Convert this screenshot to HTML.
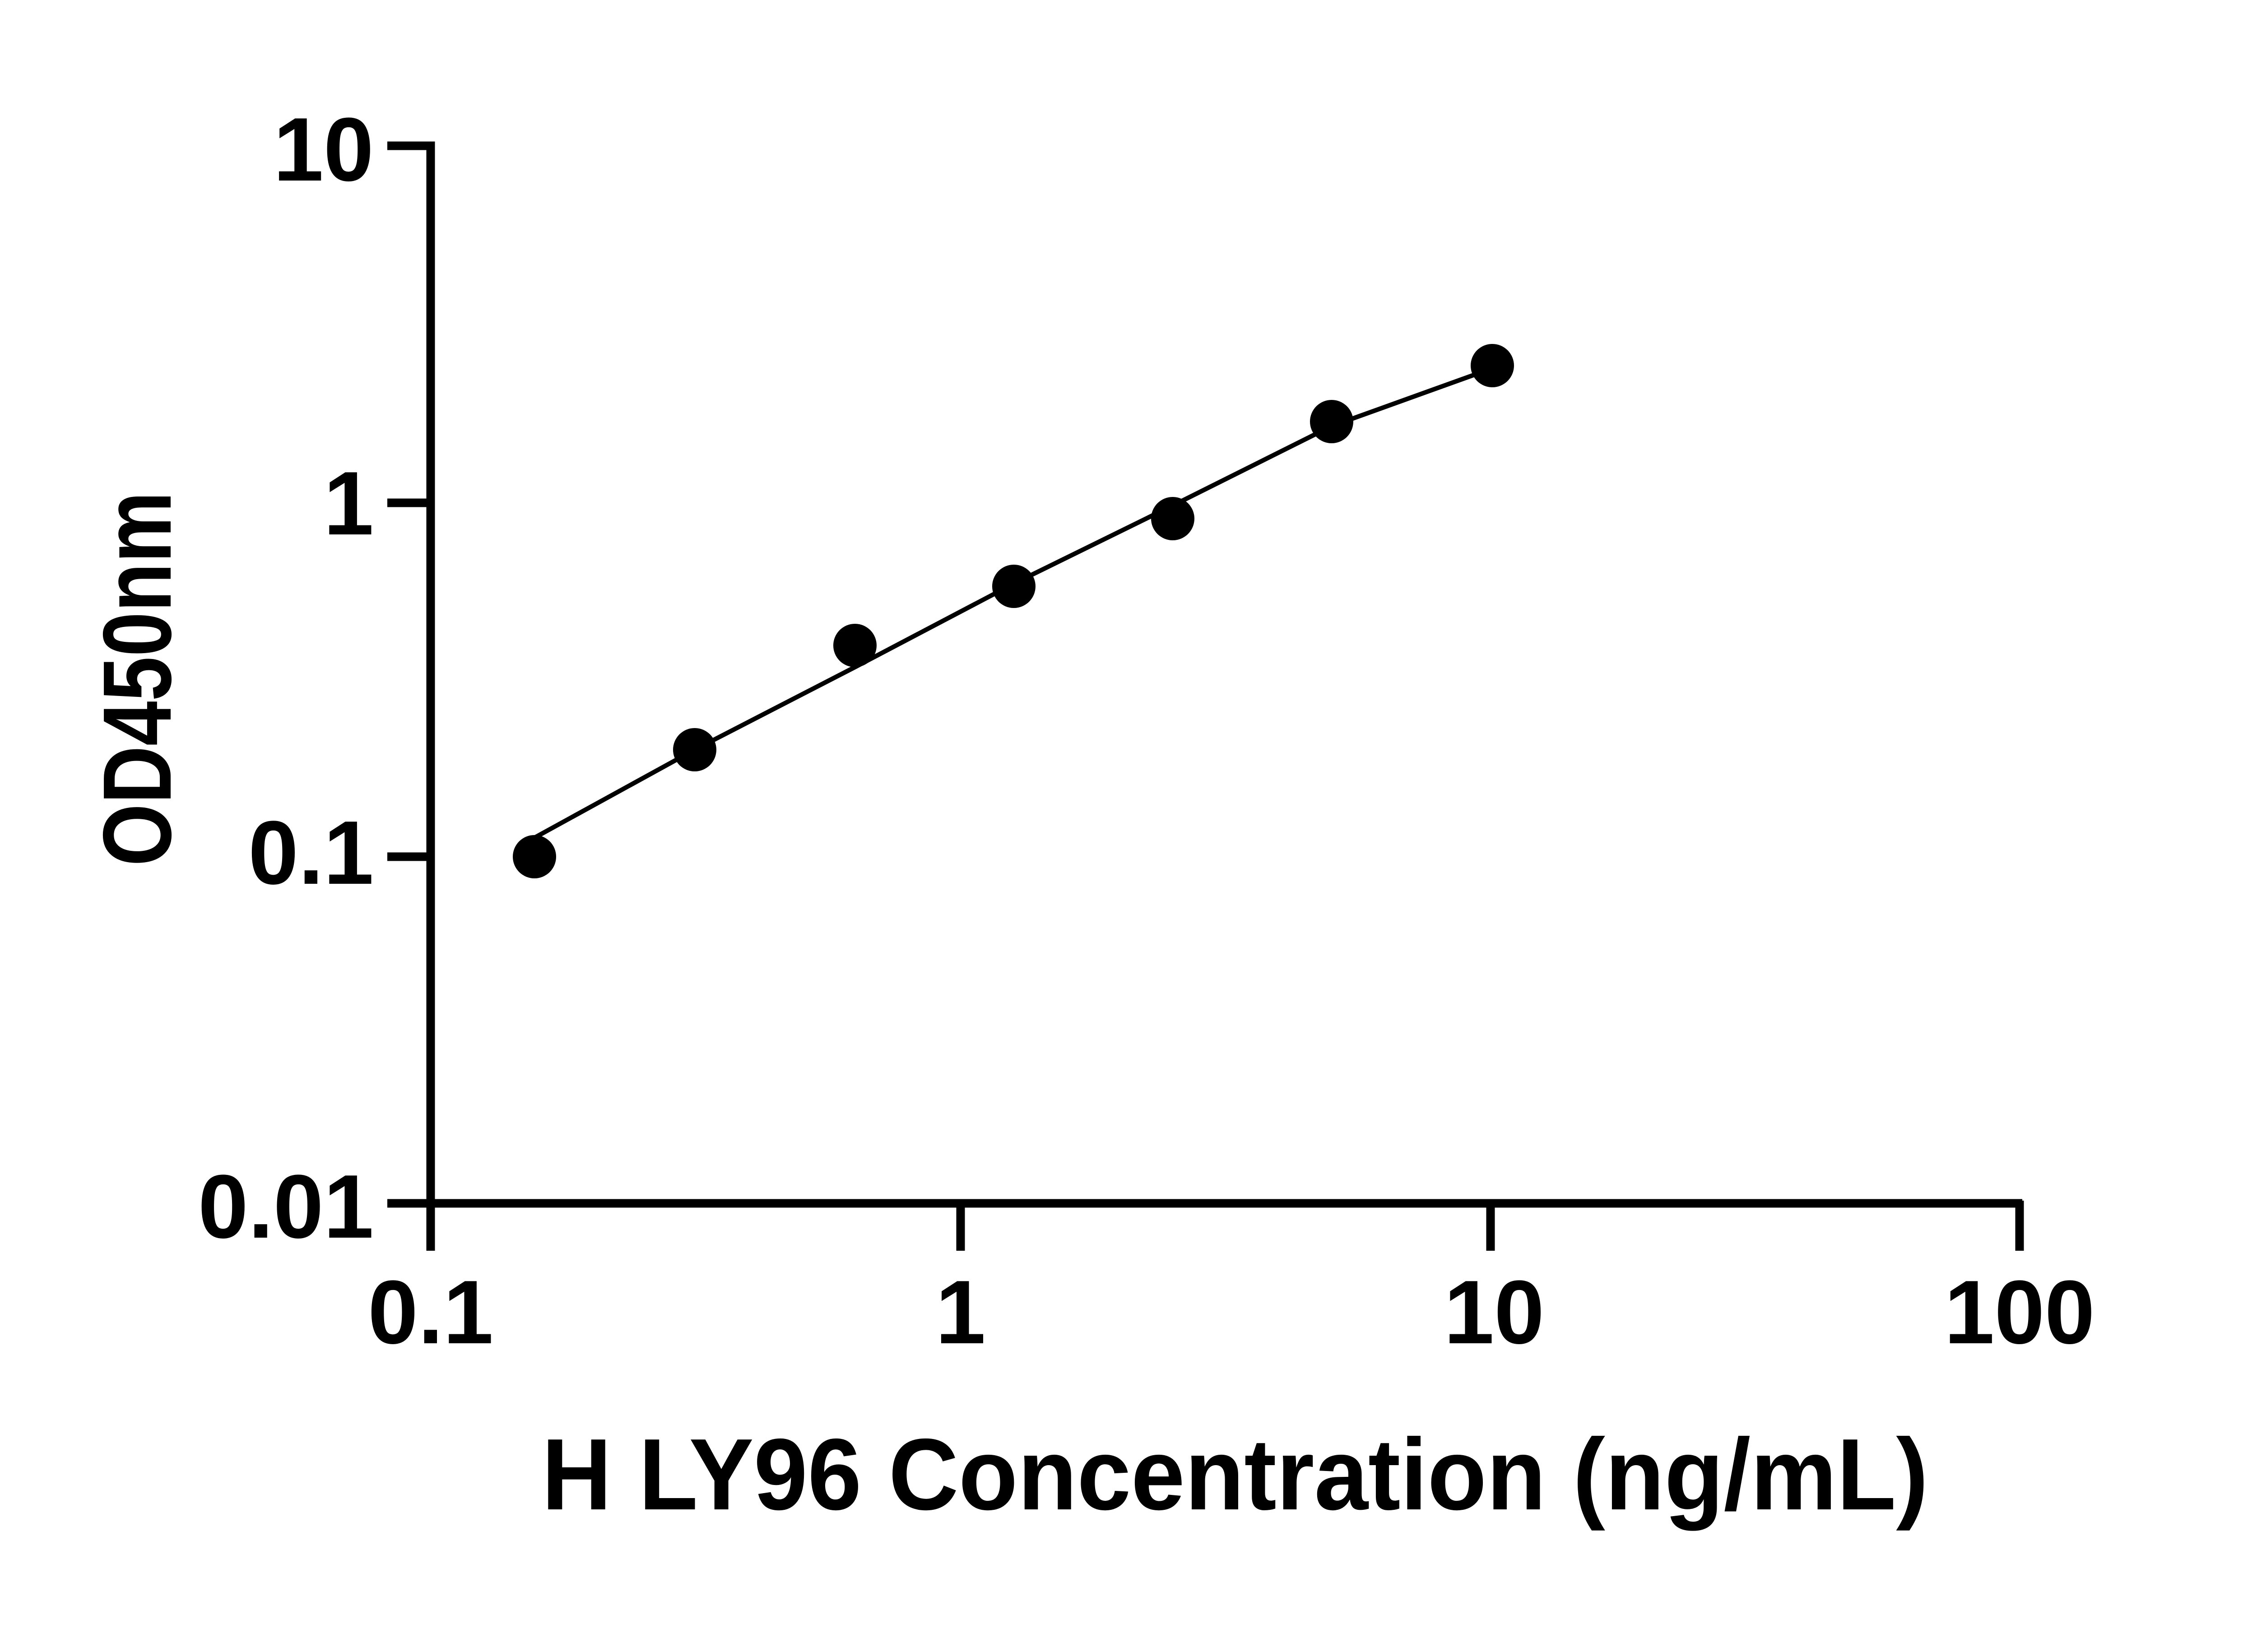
<!DOCTYPE html>
<html><head><style>html,body{margin:0;padding:0;background:#fff}svg{display:block}</style></head>
<body>
<svg width="5130" height="3660" viewBox="0 0 5130 3660" xmlns="http://www.w3.org/2000/svg" font-family="Liberation Sans, Arial, sans-serif" font-weight="bold">
<g stroke="#000" stroke-width="19" fill="none" stroke-linecap="butt">
<polyline points="858,323 954,323 954,2666"/>
<line x1="858" y1="1114" x2="954" y2="1114"/>
<line x1="858" y1="1898" x2="954" y2="1898"/>
<line x1="858" y1="2666" x2="4480" y2="2666"/>
<line x1="954" y1="2660" x2="954" y2="2771"/>
<line x1="2128" y1="2660" x2="2128" y2="2771"/>
<line x1="3302" y1="2660" x2="3302" y2="2771"/>
<line x1="4474" y1="2660" x2="4474" y2="2771"/>
</g>
<polyline points="1184,1856 1539,1661 1894,1478 2246,1293 2598,1120 2950,944 3306,816" stroke="#000" stroke-width="10" fill="none"/>
<g fill="#000">
<circle cx="1184" cy="1898" r="48"/>
<circle cx="1539" cy="1661" r="48"/>
<circle cx="1894" cy="1430" r="48"/>
<circle cx="2246" cy="1299" r="48"/>
<circle cx="2598" cy="1149" r="48"/>
<circle cx="2950" cy="934" r="48"/>
<circle cx="3306" cy="810" r="48"/>
</g>
<g font-size="200" text-anchor="end" fill="#000">
<text x="828" y="400">10</text>
<text x="828" y="1184">1</text>
<text x="828" y="1958">0.1</text>
<text x="828" y="2742">0.01</text>
</g>
<g font-size="200" text-anchor="middle" fill="#000">
<text x="954" y="2976">0.1</text>
<text x="2128" y="2976">1</text>
<text x="3310" y="2976">10</text>
<text x="4474" y="2976">100</text>
</g>
<text x="2736" y="3344" font-size="225" text-anchor="middle" textLength="3072" lengthAdjust="spacingAndGlyphs" fill="#000">H LY96 Concentration (ng/mL)</text>
<text transform="translate(378,1504) rotate(-90)" font-size="215" text-anchor="middle" textLength="830" lengthAdjust="spacingAndGlyphs" fill="#000">OD450nm</text>
</svg>
</body></html>
